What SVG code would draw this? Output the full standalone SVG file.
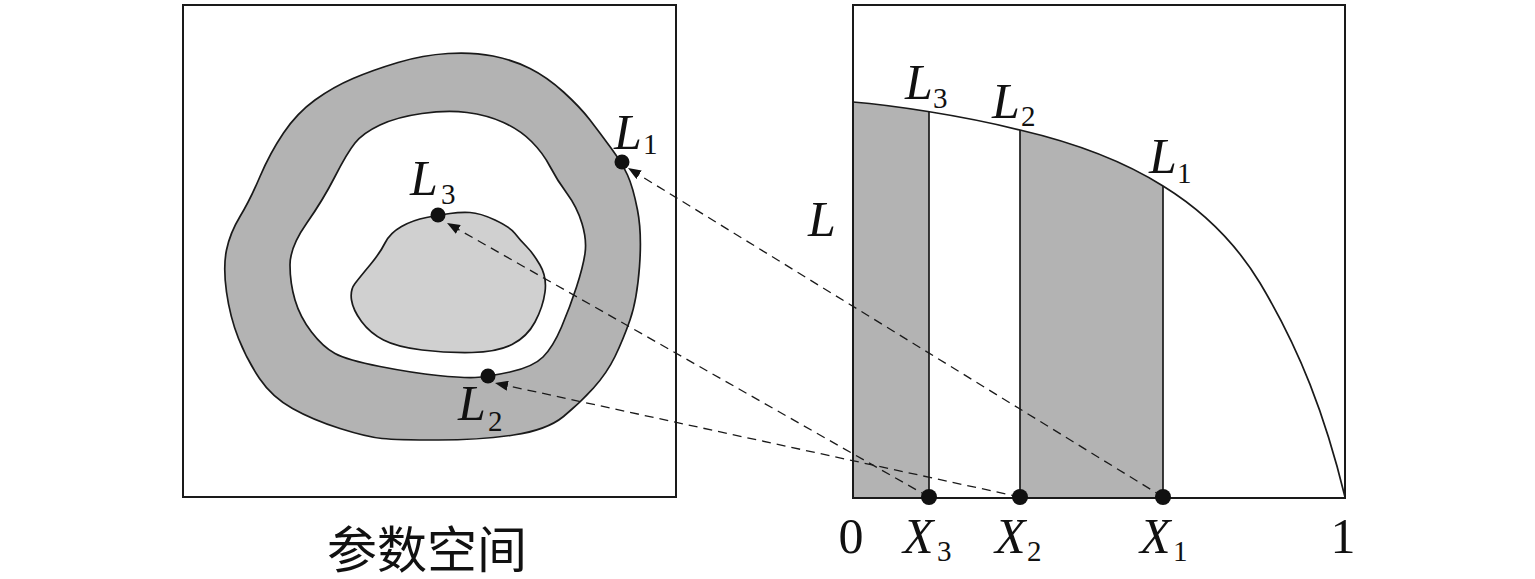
<svg xmlns="http://www.w3.org/2000/svg" width="1535" height="579" viewBox="0 0 1535 579">
<style>
.box{fill:none;stroke:#1a1a1a;stroke-width:2}
.edge{stroke:#1a1a1a;stroke-width:1.7}
.dot{fill:#111}
.dash{fill:none;stroke:#1a1a1a;stroke-width:1.3;stroke-dasharray:9 6}
.it{font-family:"Liberation Serif","Times New Roman",serif;font-style:italic;font-size:50px;fill:#111}
.num{font-family:"Liberation Serif","Times New Roman",serif;font-size:50px;fill:#111}
.sub{font-family:"Liberation Serif","Times New Roman",serif;font-size:29px;fill:#111}
.cjk{font-family:"Liberation Serif","Noto Sans CJK SC",serif;font-size:50px;fill:#111}
</style>
<defs>
<marker id="arr" markerUnits="userSpaceOnUse" markerWidth="14" markerHeight="10" refX="13" refY="5" orient="auto">
<path d="M0,0 L13,5 L0,10 Z" fill="#111"/>
</marker>
<clipPath id="under">
<path d="M853,102 C890,105 960,115 1020,130 C1080,144 1125,162 1163,186 C1210,215 1240,250 1260,283 C1300,350 1325,415 1345,497 L853,497 Z"/>
</clipPath>
</defs>
<rect width="1535" height="579" fill="#fff"/>

<g id="param-space">
<rect class="box" x="183" y="5" width="493" height="492"/>
<path id="outer-ring" fill="#b3b3b3" class="edge" d="M448,53.5 Q423,55 398,62.5 Q373,70 353,78.5 Q333,87 315,100 Q297,113 283.5,133 Q270,153 260,176.5 Q250,200 240,216.5 Q230,233 226.5,250 Q223,267 226.5,292 Q230,317 238.5,338.5 Q247,360 259.5,378.5 Q272,397 292.5,408.5 Q313,420 340,428.5 Q367,437 382,438.5 Q397,440 438.5,440 Q480,440 513.5,435 Q547,430 563.5,416.5 Q580,403 593.5,388 Q607,373 615,356.5 Q623,340 630,320 Q637,300 639.5,266.5 Q642,233 637.5,210 Q633,187 627.5,175 Q622,163 611,148 Q600,133 590,120 Q580,107 563.5,92 Q547,77 530,68.5 Q513,60 493,56 Q473,52 448,53.5 Z"/>
<path id="inner-hole" fill="#fff" class="edge" d="M422,113.5 Q397,117 380,125 Q363,133 355,143 Q347,153 335,176.5 Q323,200 306.5,223.5 Q290,247 290,265 Q290,283 295,300 Q300,317 311.5,332 Q323,347 335,353.5 Q347,360 380,366.5 Q413,373 438,375.5 Q463,378 475,377.5 Q487,377 510,372 Q533,367 543,357 Q553,347 561.5,327 Q570,307 576.5,287 Q583,267 585,253.5 Q587,240 582,223.5 Q577,207 567,193.5 Q557,180 550,166.5 Q543,153 531.5,141.5 Q520,130 503.5,122.5 Q487,115 467,112.5 Q447,110 422,113.5 Z"/>
<path id="core" fill="#d0d0d0" class="edge" d="M426.5,217.5 Q413,220 401.5,226.5 Q390,233 385,243 Q380,253 370,265 Q360,277 355,283.5 Q350,290 351.5,300 Q353,310 361.5,321.5 Q370,333 383.5,340 Q397,347 422,350 Q447,353 472,352.5 Q497,352 512,344.5 Q527,337 535,322 Q543,307 545,292 Q547,277 540,265 Q533,253 526.5,246.5 Q520,240 515,233.5 Q510,227 495,220 Q480,213 470,212.5 Q460,212 450,213.5 Q440,215 426.5,217.5 Z"/>
<text class="cjk" x="427" y="568" text-anchor="middle">参数空间</text>
</g>

<g id="plot">
<g clip-path="url(#under)">
<rect x="853" y="90" width="76" height="410" fill="#b3b3b3"/>
<rect x="1020" y="90" width="143" height="410" fill="#b3b3b3"/>
</g>
<line class="edge" x1="929" y1="111" x2="929" y2="497"/>
<line class="edge" x1="1020" y1="130" x2="1020" y2="497"/>
<line class="edge" x1="1163" y1="186" x2="1163" y2="497"/>
<path class="edge" fill="none" d="M853,102 C890,105 960,115 1020,130 C1080,144 1125,162 1163,186 C1210,215 1240,250 1260,283 C1300,350 1325,415 1345,497"/>
<rect class="box" x="853" y="5" width="492" height="493"/>
<text class="it" x="808" y="236">L</text>
<text class="num" x="851" y="553" text-anchor="middle">0</text>
<text class="num" x="1343" y="553" text-anchor="middle">1</text>
</g>

<g id="connectors">
<line class="dash" x1="1163" y1="497" x2="628" y2="168" marker-end="url(#arr)"/>
<line class="dash" x1="1020" y1="497" x2="495" y2="383" marker-end="url(#arr)"/>
<line class="dash" x1="929" y1="497" x2="447" y2="223" marker-end="url(#arr)"/>
</g>

<g id="L1">
<circle class="dot" cx="622" cy="162" r="7.5"/>
<text class="it" x="614" y="149">L</text><text class="sub" x="643" y="154">1</text>
</g>
<g id="L2">
<circle class="dot" cx="488" cy="376" r="7.5"/>
<text class="it" x="458" y="420">L</text><text class="sub" x="488" y="431">2</text>
</g>
<g id="L3">
<circle class="dot" cx="438" cy="215" r="7.5"/>
<text class="it" x="410" y="195">L</text><text class="sub" x="441" y="204">3</text>
</g>
<g id="X1">
<circle class="dot" cx="1163" cy="497" r="8"/>
<text class="it" x="1140" y="553">X</text><text class="sub" x="1173" y="561">1</text>
</g>
<g id="X2">
<circle class="dot" cx="1020" cy="497" r="8"/>
<text class="it" x="995" y="553">X</text><text class="sub" x="1027" y="561">2</text>
</g>
<g id="X3">
<circle class="dot" cx="929" cy="497" r="8"/>
<text class="it" x="903" y="553">X</text><text class="sub" x="937" y="561">3</text>
</g>
<g id="L3-top">
<text class="it" x="905" y="99">L</text><text class="sub" x="933" y="108">3</text>
</g>
<g id="L2-top">
<text class="it" x="992" y="118">L</text><text class="sub" x="1021" y="126">2</text>
</g>
<g id="L1-top">
<text class="it" x="1149" y="173">L</text><text class="sub" x="1177" y="183">1</text>
</g>
</svg>
